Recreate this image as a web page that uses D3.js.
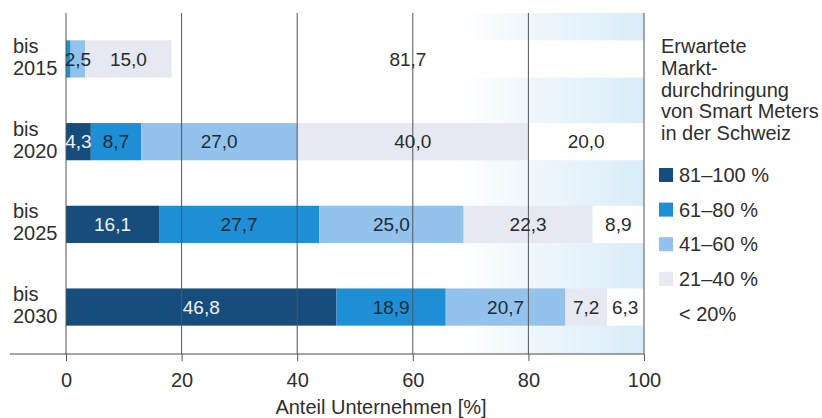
<!DOCTYPE html>
<html>
<head>
<meta charset="utf-8">
<script src="https://cdn.jsdelivr.net/npm/d3@7"></script>
<style>
  body { margin: 0; background: #fff; }
  text { font-family: "Liberation Sans", Arial, sans-serif; fill: #2e2e2e; }
</style>
</head>
<body>
<div id="chart"></div>
<script>
const width = 822;
const height = 418;

// data
const years = ["2015", "2020", "2025", "2030"];
const groups = ["81–100 %", "61–80 %", "41–60 %", "21–40 %", "< 20%"];
const p81to100 = [0, 4.3, 16.1, 46.8];
const p61to80 = [0.8, 8.7, 27.7, 18.9];
const p41to60 = [2.5, 27.0, 25.0, 20.7];
const p21to40 = [15.0, 40.0, 22.3, 7.2];
const pBelow20 = [81.7, 20.0, 8.9, 6.3];
const xTicks = [0, 20, 40, 60, 80, 100];
const legendTitle = ["Erwartete", "Markt-", "durchdringung", "von Smart Meters", "in der Schweiz"];
const xTitle = "Anteil Unternehmen [%]";

const colors = ["#174d7c", "#1e8fd5", "#93c3ec", "#e6e9f2", "#ffffff"];
const labelColors = ["#eef3f8", "#1f2a36", "#1f2a36", "#2a2a2a", "#2a2a2a"];

const rows = years.map((yr, i) => ({
  year: yr,
  "81–100 %": p81to100[i],
  "61–80 %": p61to80[i],
  "41–60 %": p41to60[i],
  "21–40 %": p21to40[i],
  "< 20%": pBelow20[i]
}));

const x = d3.scaleLinear().domain([0, 100]).range([66, 644]);
const y = d3.scaleBand().domain(years).range([17.6, 348.4])
  .paddingInner(0.55).paddingOuter(0.275);
const color = d3.scaleOrdinal().domain(groups).range(colors);

const series = d3.stack().keys(groups)(rows);

const svg = d3.select("#chart").append("svg")
  .attr("width", width)
  .attr("height", height);

// pale blue paper tint on the right part of the plot
const defs = svg.append("defs");
const grad = defs.append("linearGradient").attr("id", "tint")
  .attr("x1", "0%").attr("x2", "100%");
grad.append("stop").attr("offset", "0%").attr("stop-color", "#e2f1fa").attr("stop-opacity", 0);
grad.append("stop").attr("offset", "40%").attr("stop-color", "#e2f1fa").attr("stop-opacity", 0.6);
grad.append("stop").attr("offset", "100%").attr("stop-color", "#d9ecf8").attr("stop-opacity", 1);
svg.append("rect")
  .attr("x", x(68)).attr("y", 13)
  .attr("width", x(100) - x(68)).attr("height", 341)
  .attr("fill", "url(#tint)");

// bars
const layer = svg.append("g").selectAll("g")
  .data(series)
  .join("g")
    .attr("fill", d => color(d.key));

layer.selectAll("rect")
  .data(d => d)
  .join("rect")
    .attr("x", d => x(d[0]))
    .attr("y", d => y(d.data.year))
    .attr("width", d => x(d[1]) - x(d[0]))
    .attr("height", y.bandwidth());

// grid lines
svg.append("g").selectAll("line")
  .data(xTicks)
  .join("line")
    .attr("x1", d => x(d)).attr("x2", d => x(d))
    .attr("y1", 13).attr("y2", 354)
    .attr("stroke", "#555")
    .attr("stroke-width", 1);

// value labels
series.forEach((s, gi) => {
  svg.append("g").selectAll("text")
    .data(s.filter(d => d[1] - d[0] >= 2))
    .join("text")
      .attr("x", d => (x(d[0]) + x(d[1])) / 2)
      .attr("y", d => y(d.data.year) + y.bandwidth() / 2)
      .attr("dy", "0.36em")
      .attr("text-anchor", "middle")
      .style("font-size", "19px")
      .style("fill", labelColors[gi])
      .text(d => d3.format(".1f")(d[1] - d[0]).replace(".", ","));
});

// x axis
const xAxis = svg.append("g")
  .attr("transform", "translate(0,354)")
  .call(d3.axisBottom(x)
    .tickValues(xTicks)
    .tickSizeInner(7)
    .tickSizeOuter(0));
xAxis.select(".domain").remove();
xAxis.selectAll(".tick line").attr("stroke", "#555");
xAxis.selectAll(".tick text")
  .attr("y", 33).attr("dy", 0)
  .style("font-size", "20px")
  .style("font-family", "'Liberation Sans', Arial, sans-serif")
  .attr("fill", "#2e2e2e");

svg.append("line")
  .attr("x1", 10).attr("x2", x(100))
  .attr("y1", 354).attr("y2", 354)
  .attr("stroke", "#4d4d4d")
  .attr("stroke-width", 1.2);

svg.append("text")
  .attr("x", 381).attr("y", 414)
  .attr("text-anchor", "middle")
  .style("font-size", "20px")
  .text(xTitle);

// category labels
const cat = svg.append("g").selectAll("text")
  .data(years)
  .join("text")
    .attr("x", 13)
    .attr("y", d => y(d) + y.bandwidth() / 2 - 6)
    .style("font-size", "20px");
cat.append("tspan").text("bis");
cat.append("tspan")
  .attr("x", 13).attr("dy", 22)
  .text(d => d);

// legend
const legend = svg.append("g").attr("transform", "translate(661,0)");
legend.selectAll("text.title")
  .data(legendTitle)
  .join("text")
    .attr("class", "title")
    .attr("x", 0)
    .attr("y", (d, i) => 53 + i * 21.8)
    .style("font-size", "20px")
    .text(d => d);

const item = legend.selectAll("g.item")
  .data(groups)
  .join("g")
    .attr("class", "item")
    .attr("transform", (d, i) => `translate(0,${175 + i * 34.6})`);
item.append("rect")
  .attr("x", -2).attr("y", -7)
  .attr("width", 14).attr("height", 14)
  .attr("fill", d => color(d));
item.append("text")
  .attr("x", 18).attr("dy", "0.36em")
  .style("font-size", "20px")
  .text(d => d);
</script>
</body>
</html>
